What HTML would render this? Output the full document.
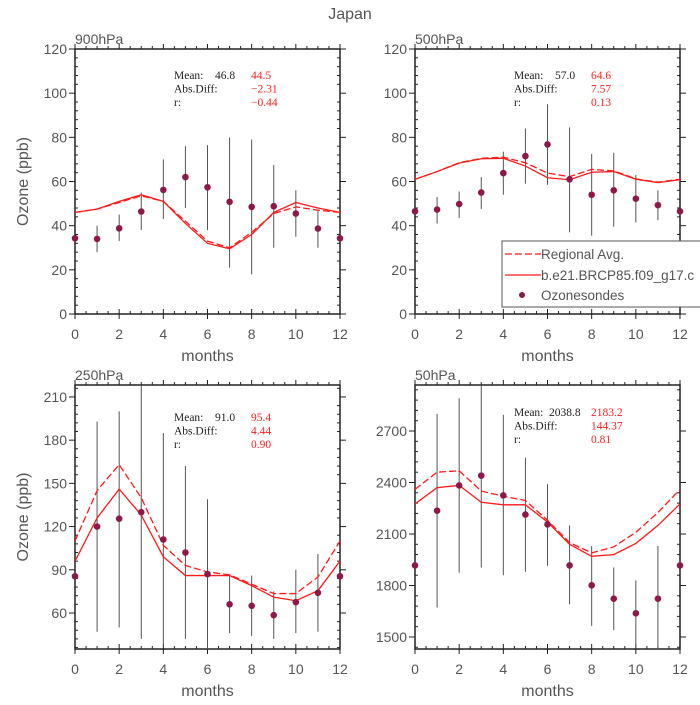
<!DOCTYPE html>
<html><head><meta charset="utf-8"><style>
body{margin:0;background:#fff}
svg text{font-family:"Liberation Sans",sans-serif}
.tk{fill:#555;font-size:14px}
.st{font-family:"Liberation Serif",serif !important;font-size:11.5px;font-weight:normal}
</style></head><body>
<svg id="c" width="700" height="700" viewBox="0 0 700 700" xmlns="http://www.w3.org/2000/svg">
<text x="350" y="19" text-anchor="middle" fill="#555" font-size="16">Japan</text>
</svg>
<script>
const months=[0,1,2,3,4,5,6,7,8,9,10,11,12];
const p900Obs=[34.3,34,38.8,46.4,56.2,62,57.4,50.8,48.5,48.8,45.5,38.7,34.3];
const p900Lo=[null,28,33,38,43,48,38,21,18,30,35,30,null];
const p900Hi=[null,40,45,55,70,76,76.5,80,79,67.5,56,47,null];
const p900Model=[46,47.5,51,54,51,41,32,29.5,36,46,50.5,48,46];
const p900Reg=[46,47.5,50.5,53.5,51,42,33,30,37,45.5,48.5,47,46];
const p900Stats=["46.8","44.5","\u22122.31","\u22120.44"];
const p500Obs=[46.5,47.3,49.8,55,63.8,71.5,76.8,61,54,56,52.2,49.3,46.5];
const p500Lo=[null,41,43.5,47.5,54,59,58.5,37,35.5,39.5,41.5,42.5,null];
const p500Hi=[null,53,55.5,62,73.5,84,95,84.5,72.5,73,63,56,null];
const p500Model=[61,64.5,68.3,70.3,70.5,67,61.7,60.8,64.2,64.5,61,59.5,60.8];
const p500Reg=[61,64.5,68.5,70.5,71,68.5,63.8,62.2,65.5,64.8,61.2,59.7,61];
const p500Stats=["57.0","64.6","7.57","0.13"];
const p250Obs=[85.5,120,125.5,130,111,102,87,66,65,58.5,67.5,74,85.5];
const p250Lo=[null,47,50,42,38,42,35,46,44,42,46,47,null];
const p250Hi=[null,193,200,225,185,162,139,86,86,75,90,101,null];
const p250Model=[96,126,146,128,99,86,86,86,79,71,68.5,75.5,96];
const p250Reg=[110,145,163,140,107,93,88.5,86.5,80,73.5,73.5,85,110];
const p250Stats=["91.0","95.4","4.44","0.90"];
const p50Obs=[1917,2236,2383,2440,2325,2213,2156,1917,1801,1723,1638,1723,1917];
const p50Lo=[null,1672,1875,1905,1860,1880,1915,1690,1565,1540,1440,1430,null];
const p50Hi=[null,2800,2890,2970,2795,2545,2390,2150,2030,1905,1830,2030,null];
const p50Model=[2275,2370,2383,2285,2270,2270,2170,2040,1970,1980,2045,2150,2275];
const p50Reg=[2360,2460,2468,2350,2320,2295,2180,2050,1990,2025,2110,2225,2360];
const p50Stats=["2038.8","2183.2","144.37","0.81"];
const xTicks=[0,2,4,6,8,10,12];
const yTicksA=[0,20,40,60,80,100,120];
const yTicksB=[60,90,120,150,180,210];
const yTicksC=[1500,1800,2100,2400,2700];

const svg=document.getElementById('c');
const NS='http://www.w3.org/2000/svg';
function mk(tag,at,parent){const e=document.createElementNS(NS,tag);for(const k in at)e.setAttribute(k,at[k]);(parent||svg).appendChild(e);return e;}

function panel(cfg){
  const g=mk('g',{});
  
  
  const {x0,x1,yt,yb,vmin,vmax}=cfg;
  const X=m=>x0+(m/12)*(x1-x0);
  const Y=v=>yb-(v-vmin)/(vmax-vmin)*(yb-yt);
  const clip='cl'+cfg.name;
  const cp=mk('clipPath',{id:clip},g);mk('rect',{x:x0,y:yt,width:x1-x0,height:yb-yt},cp);
  for(let m=0;m<=12;m+=0.5){
    const len=(m%2===0)?5:3;
    const t1=mk('line',{x1:X(m),x2:X(m),y1:yb,y2:yb-len,stroke:'#222','stroke-width':1},g);
    
    const t2=mk('line',{x1:X(m),x2:X(m),y1:yt,y2:yt-len,stroke:'#222','stroke-width':1},g);
    
  }
  xTicks.forEach(m=>{
    mk('line',{x1:X(m),x2:X(m),y1:yb,y2:yb+5,stroke:'#222'},g);
    const t=mk('text',{x:X(m),y:yb+25,'text-anchor':'middle',class:'tk'},g);t.textContent=m;
    
  });
  const step=(cfg.ticks[1]-cfg.ticks[0])/5;
  for(let v=Math.ceil(vmin/step)*step;v<=vmax;v+=step){
    const major=cfg.ticks.some(t=>Math.abs(t-v)<1e-6);
    const len=major?6:3;
    mk('line',{x1:x0,x2:major?x0-len:x0+len,y1:Y(v),y2:Y(v),stroke:'#222'},g);
    mk('line',{x1:x1,x2:major?x1+len:x1-len,y1:Y(v),y2:Y(v),stroke:'#222'},g);
  }
  cfg.ticks.forEach(v=>{
    const t=mk('text',{x:x0-8,y:Y(v)+5,'text-anchor':'end',class:'tk'},g);t.textContent=v;
    
  });
  const fr=mk('rect',{x:x0,y:yt,width:x1-x0,height:yb-yt,fill:'none',stroke:'#222','stroke-width':1.5},g);
  
  const dg=mk('g',{'clip-path':`url(#${clip})`},g);
  months.forEach((m,i)=>{
    if(cfg.lo[i]==null)return;
    const e=mk('line',{x1:X(m),x2:X(m),y1:Y(cfg.lo[i]),y2:Y(cfg.hi[i]),stroke:'#555','stroke-width':1},dg);
    
  });
  const pts=a=>a.map((v,i)=>X(months[i])+','+Y(v)).join(' ');
  const l1=mk('polyline',{points:pts(cfg.reg),fill:'none',stroke:'#ff1a1a','stroke-width':1.3,'stroke-dasharray':'7,3'},dg);
  
  const l2=mk('polyline',{points:pts(cfg.model),fill:'none',stroke:'#ff1a1a','stroke-width':1.3},dg);
  
  cfg.obs.forEach((v,i)=>{
    const c=mk('circle',{cx:X(months[i]),cy:Y(v),r:3.3,fill:'#8b1a4a'},g);
    
  });
  const ti=mk('text',{x:x0,y:yt-5,fill:'#555','font-size':14},g);ti.textContent=cfg.title;
  
  const xl=mk('text',{x:(x0+x1)/2,y:yb+47,'text-anchor':'middle',fill:'#555','font-size':16},g);xl.textContent='months';
  
  if(cfg.ylab){
    const yl=mk('text',{x:0,y:0,'text-anchor':'middle',fill:'#555','font-size':16,transform:`translate(28,${(yt+yb)/2}) rotate(-90)`},g);yl.textContent='Ozone (ppb)';
    
  }
  const sx=x0+99, sy=yt+cfg.sdy;
  const s=cfg.stats;
  const rows=[['Mean:',s[0],s[1]],['Abs.Diff:','',s[2]],['r:','',s[3]]];
  rows.forEach((r,k)=>{
    const yy=sy+k*13.5;
    const a=mk('text',{x:sx,y:yy,class:'st',fill:'#222'},g);a.textContent=r[0];
    
    if(r[1]){const b=mk('text',{x:sx+cfg.vx,y:yy,class:'st',fill:'#222'},g);b.textContent=r[1];
      }
    const c=mk('text',{x:sx+77,y:yy,class:'st',fill:'#ff2020'},g);c.textContent=r[2];
    
  });
}
panel({name:'panel-900hpa',title:'900hPa',x0:75,x1:340,yt:49,yb:314,vmin:0,vmax:120,ticks:yTicksA,obs:p900Obs,lo:p900Lo,hi:p900Hi,model:p900Model,reg:p900Reg,stats:p900Stats,ylab:true,vx:41,sdy:30});
panel({name:'panel-500hpa',title:'500hPa',x0:415,x1:680,yt:49,yb:314,vmin:0,vmax:120,ticks:yTicksA,obs:p500Obs,lo:p500Lo,hi:p500Hi,model:p500Model,reg:p500Reg,stats:p500Stats,ylab:false,vx:41,sdy:30});
panel({name:'panel-250hpa',title:'250hPa',x0:75,x1:340,yt:385,yb:649,vmin:35,vmax:218.3,ticks:yTicksB,obs:p250Obs,lo:p250Lo,hi:p250Hi,model:p250Model,reg:p250Reg,stats:p250Stats,ylab:true,vx:41,sdy:36});
panel({name:'panel-50hpa',title:'50hPa',x0:415,x1:680,yt:385,yb:649,vmin:1430,vmax:2968,ticks:yTicksC,obs:p50Obs,lo:p50Lo,hi:p50Hi,model:p50Model,reg:p50Reg,stats:p50Stats,ylab:false,vx:35,sdy:31});

const lg=mk('g',{});


mk('rect',{x:502,y:241,width:210,height:66,fill:'#fff',stroke:'#555','stroke-width':1},lg);
const items=[['Regional Avg.','dash',259],['b.e21.BRCP85.f09_g17.c','solid',280],['Ozonesondes','dot',300]];
items.forEach(it=>{
  const e=mk('g',{},lg);
  
  
  const y=it[2]-5;
  if(it[1]==='dot')mk('circle',{cx:522,cy:y,r:3,fill:'#8b1a4a'},e);
  else mk('line',{x1:505,x2:541,y1:y,y2:y,stroke:'#ff1a1a','stroke-width':1.3,'stroke-dasharray':it[1]==='dash'?'7,3':'none'},e);
  const t=mk('text',{x:541,y:it[2],fill:'#555','font-size':13.5},e);t.textContent=it[0];
});
</script>
</body></html>
